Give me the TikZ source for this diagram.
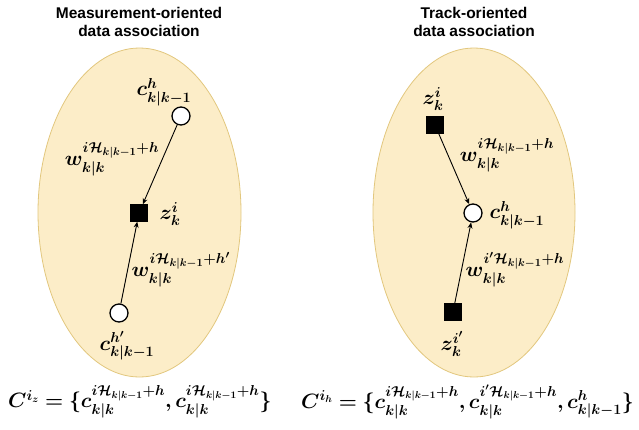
\documentclass[tikz,border=0pt]{standalone}
\usepackage{fontspec}
\usepackage{amsmath}
\usepackage{bm}
\setsansfont{Liberation Sans}
\usetikzlibrary{arrows.meta}
\definecolor{ellfill}{HTML}{FCEDC8}
\definecolor{elldraw}{HTML}{E2C77E}
\begin{document}
\begin{tikzpicture}[x=1pt,y=-1pt,
  blob/.style={draw=elldraw, fill=ellfill, line width=0.8pt},
  track/.style={circle, draw=black, fill=white, line width=1.3pt, minimum size=18pt, inner sep=0pt},
  meas/.style={rectangle, draw=black, fill=black, minimum size=17pt, inner sep=0pt},
  link/.style={-{Stealth[length=6pt,width=5pt]}, line width=0.9pt},
  title/.style={font=\sffamily\bfseries\fontsize{15.5}{18}\selectfont, align=center},
  lab/.style={font=\fontsize{21}{24}\selectfont, inner sep=0pt},
  formula/.style={font=\fontsize{20.5}{24}\selectfont, inner sep=0pt}
]
\useasboundingbox (0,0) rectangle (639,429);
% ellipses
\draw[blob] (139.5,212.5) ellipse [x radius=101.5, y radius=164.5];
\draw[blob] (474,212.5) ellipse [x radius=101, y radius=164.5];
% titles
\node[title] (t1) at (139,22) {Measurement-oriented\\data association};
\node[title] (t2) at (474,22) {Track-oriented\\data association};
% left diagram
\node[track] (lc1) at (181,116) {};
\node[meas]  (lz)  at (139,213) {};
\node[track] (lc2) at (119,313) {};
\draw[link] (lc1) -- (lz);
\draw[link] (lc2) -- (lz);
\node[lab] (llc1) at (164,92) {$\bm{c^{h}_{k|k-1}}$};
\node[lab] (llw1) at (112,159) {$\bm{w^{i\mathcal{H}_{k|k-1}+h}_{k|k}}$};
\node[lab] (llz)  at (170,214) {$\bm{z^{i}_{k}}$};
\node[lab] (llw2) at (181,270) {$\bm{w^{i\mathcal{H}_{k|k-1}+h'}_{k|k}}$};
\node[lab] (llc2) at (127,346) {$\bm{c^{h'}_{k|k-1}}$};
% right diagram
\node[meas]  (rz1) at (435,125) {};
\node[track] (rc)  at (473,213) {};
\node[meas]  (rz2) at (453,312) {};
\draw[link] (rz1) -- (rc);
\draw[link] (rz2) -- (rc);
\node[lab] (rlz1) at (433,99) {$\bm{z^{i}_{k}}$};
\node[lab] (rlw1) at (507,155) {$\bm{w^{i\mathcal{H}_{k|k-1}+h}_{k|k}}$};
\node[lab] (rlc)  at (517,215) {$\bm{c^{h}_{k|k-1}}$};
\node[lab] (rlw2) at (515,270) {$\bm{w^{i'\mathcal{H}_{k|k-1}+h}_{k|k}}$};
\node[lab] (rlz2) at (452,344) {$\bm{z^{i'}_{k}}$};
% formulas
\node[formula, anchor=west] (f1) at (8,402) {$\bm{C^{i_z} = \{c^{i\mathcal{H}_{k|k-1}+h}_{k|k}, c^{i\mathcal{H}_{k|k-1}+h}_{k|k}\}}$};
\node[formula, anchor=east] (f2) at (634,402) {$\bm{C^{i_h} = \{c^{i\mathcal{H}_{k|k-1}+h}_{k|k}, c^{i'\mathcal{H}_{k|k-1}+h}_{k|k}, c^{h}_{k|k-1}\}}$};
\end{tikzpicture}
\end{document}
